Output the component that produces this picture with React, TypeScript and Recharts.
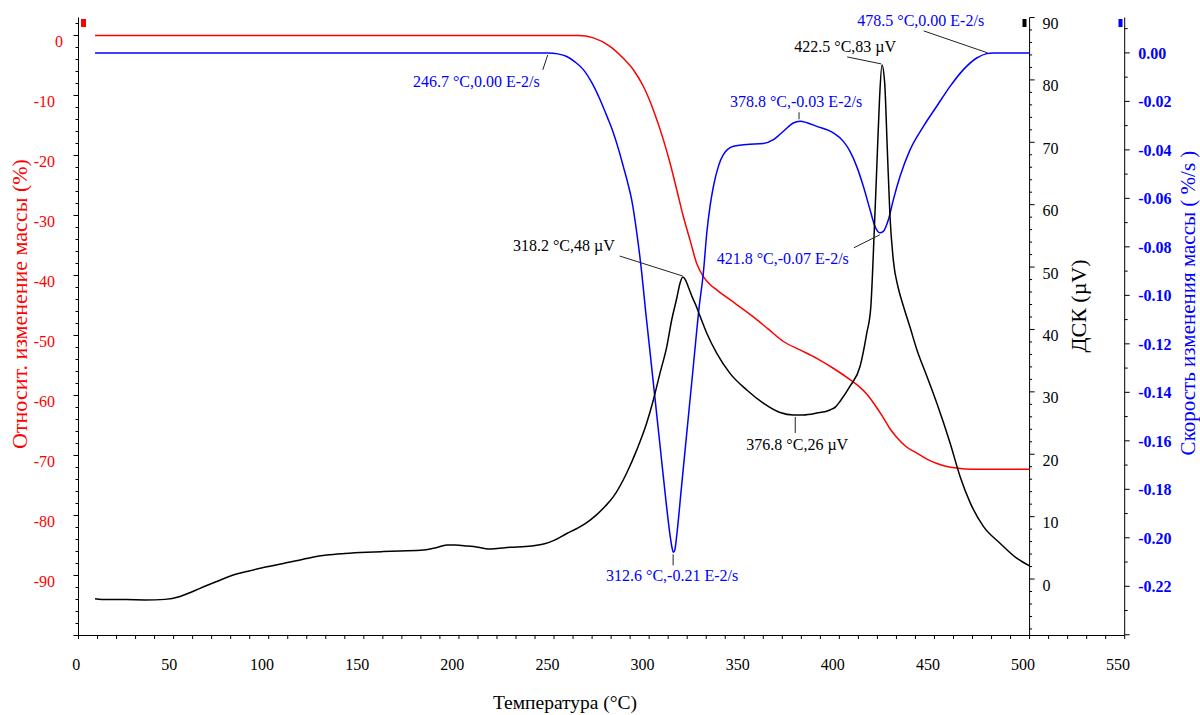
import React from "react";
import { ComposedChart, XAxis, YAxis, Line, ReferenceLine, ReferenceDot, Customized } from "recharts";

const FONT = '"Liberation Serif", "Times New Roman", serif';
const W = 1200;
const H = 715;
const LEFT_W = 78.5;
const RIGHT_W = 75.3;
const TOP = 17.5;
const BOTTOM_H = 79.5;
const PLOT_W = W - LEFT_W - RIGHT_W;
const X_MAX = 550;
// the DSC axis sits inside the plot at 500 °C
const DSC_X = LEFT_W + (PLOT_W * 500) / X_MAX;

// mass change, %
const massT = [8.7, 262.8, 270.7, 279.4, 286.4, 291.7, 297, 302.2, 307.5, 311, 314.5, 318, 321.5, 325, 328.5, 332, 335.5, 345, 354.8, 362.5, 370.6, 379.3, 388.1, 397, 405.8, 410, 414.5, 418.5, 422.9, 426.5, 430, 435, 440.7, 446, 451, 456, 461.5, 470, 500];
const massV = [0, 0, -0.4, -1.8, -3.8, -5.7, -8.5, -12.4, -17.4, -21.3, -25.7, -30.2, -34.1, -38, -40.2, -41.5, -42.4, -44.6, -46.9, -48.9, -51.0, -52.4, -53.8, -55.5, -57.4, -58.4, -59.8, -61.5, -63.6, -65.5, -66.9, -68.5, -69.6, -70.6, -71.3, -71.8, -72.1, -72.3, -72.3];

// mass change rate, %/s
const rateT = [8.7, 247, 252, 256.7, 261, 265.4, 270, 274.2, 278, 281.2, 284, 286.4, 288.7, 290.8, 293.5, 296.1, 298.2, 300, 303, 306, 309, 311, 312, 312.7, 313.5, 314.5, 317, 320, 323, 326.4, 328.5, 330.3, 332, 333.8, 336.4, 339, 344.3, 351.3, 360, 365.3, 370.6, 375.8, 379.3, 383, 388.1, 396.8, 402.1, 405.6, 409.1, 412.6, 416.1, 418.7, 421.3, 423.1, 425.8, 428.4, 431.9, 437.2, 444.2, 451.2, 458.2, 465.2, 472.2, 477.5, 481, 500];
const rateV = [0, 0, -0.0004, -0.0015, -0.0037, -0.0069, -0.0125, -0.0193, -0.0265, -0.033, -0.04, -0.0468, -0.0535, -0.0605, -0.0742, -0.0907, -0.107, -0.12, -0.142, -0.164, -0.186, -0.199, -0.204, -0.206, -0.205, -0.199, -0.179, -0.155, -0.131, -0.104, -0.0907, -0.0742, -0.0633, -0.055, -0.0468, -0.042, -0.0385, -0.0378, -0.0374, -0.0358, -0.0323, -0.0289, -0.0282, -0.0288, -0.0303, -0.033, -0.0365, -0.0406, -0.0468, -0.055, -0.0646, -0.0715, -0.0742, -0.0736, -0.0687, -0.0605, -0.0509, -0.0399, -0.0303, -0.022, -0.0138, -0.0069, -0.0021, -0.0003, 0, 0];

// DSC, µV
const dscT = [8.7, 15, 25, 35, 45.5, 53.4, 58.5, 63.9, 72.7, 81.4, 90.2, 99, 107.7, 116.5, 123, 130.5, 140, 151.5, 160, 169, 181.3, 188, 193.6, 198, 204.1, 210, 215.5, 220, 226.9, 235, 240.9, 245, 250, 256.7, 262, 267, 272, 277, 281.2, 288.2, 293.5, 298.7, 302.2, 305.7, 309.3, 311.9, 314.5, 316.3, 317.7, 319, 320.5, 322.5, 324.8, 326.8, 330.3, 335.5, 342.4, 351.3, 360, 368.8, 375.8, 381, 388.1, 395.1, 398, 400.4, 405.6, 410.9, 414.4, 416.5, 418.3, 419.7, 421.1, 422.4, 423.8, 425.2, 426.6, 428.4, 431, 433.6, 437.2, 440.7, 446, 451.2, 458.2, 463.5, 468.8, 475.8, 484.6, 493.4, 500];
const dscV = [-3.15, -3.3, -3.3, -3.35, -3.26, -2.8, -2.2, -1.49, -0.4, 0.64, 1.33, 1.97, 2.5, 3.05, 3.5, 3.85, 4.1, 4.3, 4.4, 4.5, 4.65, 5.0, 5.46, 5.45, 5.3, 5.1, 4.8, 4.9, 5.1, 5.2, 5.4, 5.65, 6.2, 7.3, 8.1, 9.0, 10.2, 11.7, 13.2, 17, 20.7, 25, 28.7, 33, 37.3, 41.6, 45, 47.5, 48.4, 48.0, 46.9, 45.3, 43.7, 42.1, 39.4, 36.2, 33, 30.3, 28.2, 26.7, 26.3, 26.3, 26.6, 27.1, 27.6, 28.5, 30.9, 34.1, 39.4, 43.5, 55.5, 66.2, 76.9, 82.4, 79.6, 68.9, 58.2, 51.0, 46.6, 43.8, 40.3, 36.8, 32.5, 28.2, 21.8, 16.4, 12.2, 8.4, 5.7, 3.3, 2.1];

// peak callouts
const annT = [246.7, 312.6, 318.2, 378.8, 376.8, 421.8, 422.5, 478.5];
const annV = [0, -0.206, 48.4, -0.0282, 26.3, -0.0742, 82.4, 0];
const annAxis = ["rate", "rate", "dsc", "rate", "dsc", "rate", "dsc", "rate"];
const annText = [
  "246.7 °C,0.00 E-2/s",
  "312.6 °C,-0.21 E-2/s",
  "318.2 °C,48 µV",
  "378.8 °C,-0.03 E-2/s",
  "376.8 °C,26 µV",
  "421.8 °C,-0.07 E-2/s",
  "422.5 °C,83 µV",
  "478.5 °C,0.00 E-2/s",
];

// tick labels
const xLabels = [0, 50, 100, 150, 200, 250, 300, 350, 400, 450, 500, 550];
const massLabels = [0, -10, -20, -30, -40, -50, -60, -70, -80, -90];
const dscLabels = [0, 10, 20, 30, 40, 50, 60, 70, 80, 90];
const rateLabels = ["0.00", "-0.02", "-0.04", "-0.06", "-0.08", "-0.10", "-0.12", "-0.14", "-0.16", "-0.18", "-0.20", "-0.22"];

const steps = (from: number, to: number, step: number, scale = 1) => {
  const out: number[] = [];
  for (let v = from; v <= to; v += step) out.push(v / scale);
  return out;
};
const xTicks = steps(0, 550, 10);
const massTicks = steps(-100, 2, 2);
const dscTicks = steps(-8, 90, 2);
const rateTicks = steps(-24, 1, 1, 100);

const zip = (ts: number[], vs: number[]) => ts.map((t, i) => ({ t, v: vs[i] }));
const massData = zip(massT, massV);
const rateData = zip(rateT, rateV);
const dscData = zip(dscT, dscV);

// callout geometry relative to the marked point (px)
const annLayout = [
  { l: [0, 2, -5, 17], tx: -8, ty: 34, anchor: "end" },
  { l: [0, 2, 0, 13], tx: -1, ty: 29, anchor: "middle" },
  { l: [-1, -1, -64, -21], tx: -69, ty: -26, anchor: "end" },
  { l: [0, -2, 0, -9], tx: -3, ty: -14, anchor: "middle" },
  { l: [0, 2, 0, 18], tx: 2, ty: 35, anchor: "middle" },
  { l: [-1, 2, -27, 15], tx: -32, ty: 31, anchor: "end" },
  { l: [-1, -1, -35, -8], tx: -37, ty: -13, anchor: "middle" },
  { l: [-1, 0, -65, -22], tx: -68, ty: -27, anchor: "middle" },
];

const RED = "#ff0000";
const BLUE = "#0000ff";

const XTick = (props: any) => {
  const { x, y, payload } = props;
  const v = payload.value;
  if (!xLabels.includes(v)) return <g />;
  const s = String(v);
  return (
    <text x={x - 2.2 * s.length} y={y + 31} textAnchor="middle" fontFamily={FONT} fontSize={16} fill="#000">
      {s}
    </text>
  );
};

const MassTick = (props: any) => {
  const { x, y, payload } = props;
  const v = Math.round(payload.value);
  const major = v % 10 === 0;
  const labeled = massLabels.includes(v);
  return (
    <g>
      <line x1={x - (major ? 5 : 3)} x2={x} y1={y} y2={y} stroke="#000" strokeWidth={1} />
      {labeled && (
        <text x={x - 23.5} y={y + 11.5} textAnchor={v === 0 ? "start" : "end"} fontFamily={FONT} fontSize={16} fill={RED}>
          {String(v)}
        </text>
      )}
    </g>
  );
};

const DscTick = (props: any) => {
  const { y, payload } = props;
  const v = Math.round(payload.value);
  const major = v % 10 === 0;
  const labeled = dscLabels.includes(v);
  return (
    <g>
      <line x1={DSC_X} x2={DSC_X + (major ? 5 : 2.5)} y1={y} y2={y} stroke="#000" strokeWidth={1} />
      {labeled && (
        <text x={DSC_X + 13} y={y + 11.5} textAnchor="start" fontFamily={FONT} fontSize={16} fill="#000">
          {String(v)}
        </text>
      )}
    </g>
  );
};

const RateTick = (props: any) => {
  const { x, y, payload } = props;
  const k = Math.round(payload.value * 100);
  const major = k % 2 === 0;
  const label = k <= 0 && major ? rateLabels[-k / 2] : undefined;
  return (
    <g>
      <line x1={x} x2={x + (major ? 5 : 3)} y1={y} y2={y} stroke="#000" strokeWidth={1} />
      {label && (
        <text x={x + 13.5} y={y + 6} textAnchor="start" fontFamily={FONT} fontSize={16} fontWeight="bold" fill={BLUE}>
          {label}
        </text>
      )}
    </g>
  );
};

const Callout = ({ cx, cy, i }: { cx: number; cy: number; i: number }) => {
  const lay = annLayout[i];
  const color = annAxis[i] === "rate" ? BLUE : "#000";
  return (
    <g>
      <line x1={cx + lay.l[0]} y1={cy + lay.l[1]} x2={cx + lay.l[2]} y2={cy + lay.l[3]} stroke="#222" strokeWidth={1} />
      <text x={cx + lay.tx} y={cy + lay.ty} textAnchor={lay.anchor as any} fontFamily={FONT} fontSize={16} fill={color}>
        {annText[i]}
      </text>
    </g>
  );
};

const Decorations = () => (
  <g fontFamily={FONT}>
    <rect x={81} y={19} width={5} height={8} fill={RED} />
    <rect x={1022.5} y={19} width={4} height={8} fill="#000" />
    <rect x={1118.5} y={19} width={4} height={8} fill={BLUE} />
    <text x={19} y={304} transform="rotate(-90 19 304)" textAnchor="middle" dominantBaseline="central" fontSize={22} fill={RED}>
      Относит. изменение массы (%)
    </text>
    <text x={1078} y={306} transform="rotate(-90 1078 306)" textAnchor="middle" dominantBaseline="central" fontSize={22} fill="#000">
      ДСК (µV)
    </text>
    <text x={1188} y={303} transform="rotate(-90 1188 303)" textAnchor="middle" dominantBaseline="central" fontSize={21} fill={BLUE}>
      Скорость изменения массы ( %/s )
    </text>
    <text x={565} y={709} textAnchor="middle" fontSize={19.5} fill="#000">
      Температура (°C)
    </text>
  </g>
);

export default function App() {
  return (
    <div style={{ position: "absolute", left: 0, top: 0, width: W, height: H, background: "#fff" }}>
      <ComposedChart width={W} height={H} margin={{ top: TOP, right: 0, bottom: 0, left: 0 }}>
        <XAxis
          dataKey="t"
          type="number"
          domain={[0, X_MAX]}
          allowDataOverflow
          ticks={xTicks}
          interval={0}
          height={BOTTOM_H}
          tickSize={3.5}
          tickMargin={0}
          axisLine={{ stroke: "#000" }}
          tickLine={{ stroke: "#000" }}
          tick={(p: any) => <XTick {...p} />}
        />
        <YAxis
          yAxisId="mass"
          orientation="left"
          type="number"
          domain={[-100, 3]}
          allowDataOverflow
          ticks={massTicks}
          interval={0}
          width={LEFT_W}
          tickSize={0}
          tickMargin={0}
          tickLine={false}
          axisLine={{ stroke: "#000" }}
          tick={(p: any) => <MassTick {...p} />}
        />
        <YAxis
          yAxisId="dsc"
          orientation="right"
          mirror
          type="number"
          domain={[-9.05, 90]}
          allowDataOverflow
          ticks={dscTicks}
          interval={0}
          tickSize={0}
          tickMargin={0}
          tickLine={false}
          axisLine={false}
          tick={(p: any) => <DscTick {...p} />}
        />
        <YAxis
          yAxisId="rate"
          orientation="right"
          type="number"
          domain={[-0.2403, 0.0146]}
          allowDataOverflow
          ticks={rateTicks}
          interval={0}
          width={RIGHT_W}
          tickSize={0}
          tickMargin={0}
          tickLine={false}
          axisLine={{ stroke: "#000" }}
          tick={(p: any) => <RateTick {...p} />}
        />
        <ReferenceLine x={500} yAxisId="dsc" stroke="#000" strokeWidth={1} />
        <Line data={massData} dataKey="v" yAxisId="mass" type="monotone" stroke={RED} strokeWidth={1.5} dot={false} isAnimationActive={false} />
        <Line data={rateData} dataKey="v" yAxisId="rate" type="monotone" stroke={BLUE} strokeWidth={1.5} dot={false} isAnimationActive={false} />
        <Line data={dscData} dataKey="v" yAxisId="dsc" type="monotone" stroke="#000" strokeWidth={1.5} dot={false} isAnimationActive={false} />
        {annT.map((t, i) => (
          <ReferenceDot
            key={i}
            x={t}
            y={annV[i]}
            yAxisId={annAxis[i]}
            r={0}
            ifOverflow="visible"
            shape={(p: any) => <Callout cx={p.cx} cy={p.cy} i={i} />}
          />
        ))}
        <Customized component={Decorations} />
      </ComposedChart>
    </div>
  );
}
